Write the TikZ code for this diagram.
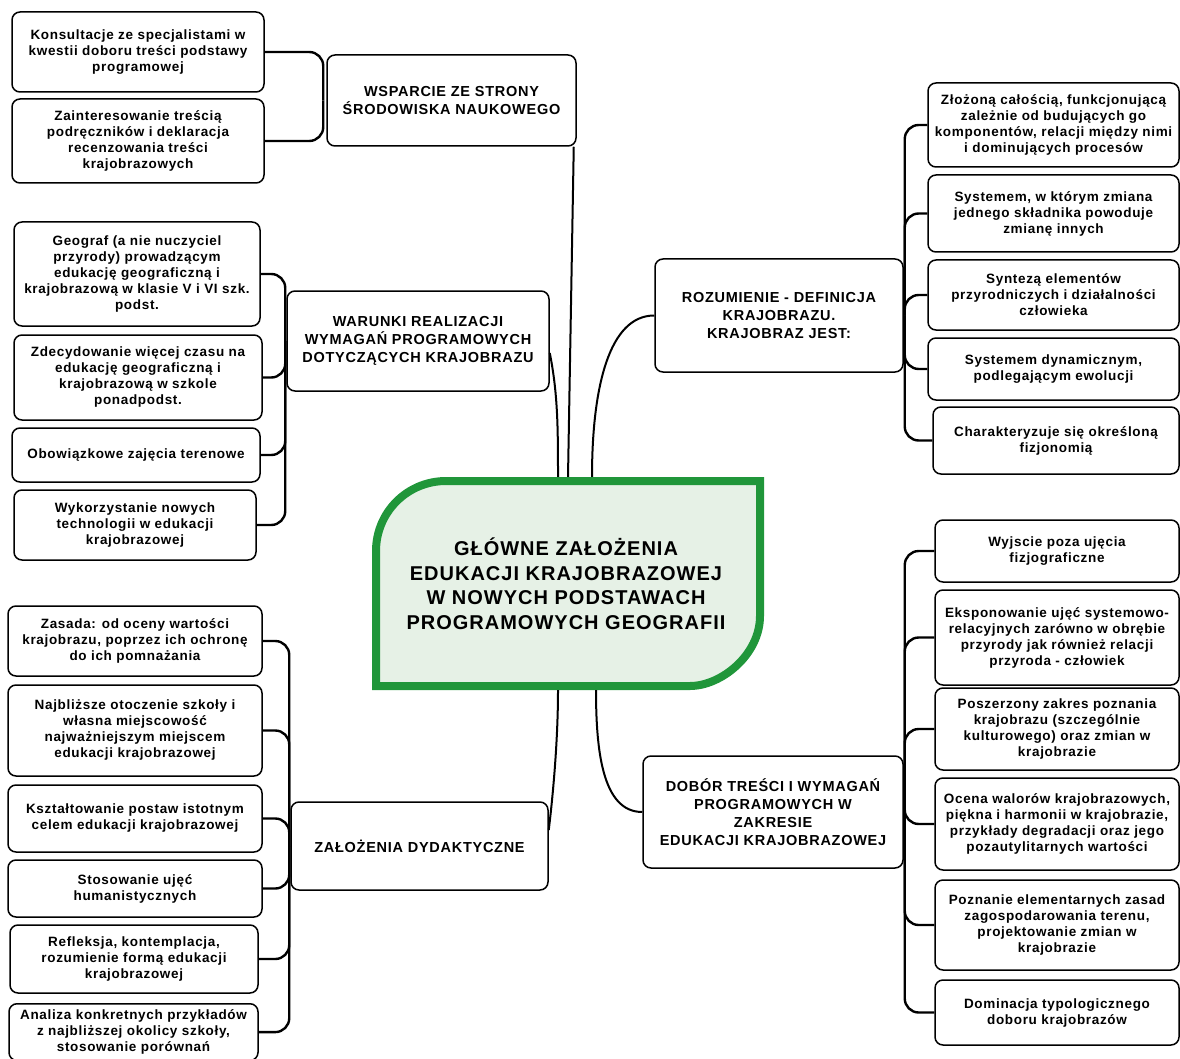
\documentclass[tikz,border=0pt]{standalone}
\usepackage{fontspec}
\setmainfont{Liberation Sans}
\newfontfamily\boxfont{Liberation Sans}[LetterSpace=5]
\usetikzlibrary{positioning}
\definecolor{hubgreen}{RGB}{32,150,58}
\definecolor{hubfill}{RGB}{230,241,230}

\begin{document}
\begin{tikzpicture}[x=1pt, y=-1pt,
    leaf/.style={draw, line width=1.5pt, rounded corners=8pt, fill=white, align=center, inner sep=2pt,
      font=\boxfont\bfseries\fontsize{13.5}{16}\selectfont},
    topic/.style={draw, line width=1.5pt, rounded corners=8pt, fill=white, align=center, inner sep=2pt,
      font=\boxfont\bfseries\fontsize{14.5}{18}\selectfont},
    hub/.style={align=center, font=\boxfont\bfseries\fontsize{20}{24.5}\selectfont},
    link/.style={line width=2.4pt, rounded corners=14pt},
    trunk/.style={line width=2pt}]
    \useasboundingbox (0,0) rectangle (1180,1059);

    % centre
    \draw[hubgreen, fill=hubfill, line width=8pt] (446,481) -- (760,481) -- (760,616)
      .. controls (760,654.7) and (721.3,686) .. (690,686) -- (376,686) -- (376,551)
      .. controls (376,512.3) and (407.3,481) .. cycle;
    \node[hub, minimum width=392, minimum height=213] (hub) at (566,583.5)
      {GŁÓWNE ZAŁOŻENIA\\EDUKACJI KRAJOBRAZOWEJ\\W NOWYCH PODSTAWACH\\PROGRAMOWYCH GEOGRAFII};

    % topics
    \node[topic, minimum width=249, minimum height=91] (wsparcie) at (451.5,100.5) {WSPARCIE ZE STRONY\\ŚRODOWISKA NAUKOWEGO};
    \node[topic, minimum width=262, minimum height=100] (warunki) at (418,341) {WARUNKI REALIZACJI\\WYMAGAŃ PROGRAMOWYCH\\DOTYCZĄCYCH KRAJOBRAZU};
    \node[topic, minimum width=257, minimum height=88] (zalozenia) at (419.5,846) {ZAŁOŻENIA DYDAKTYCZNE};
    \node[topic, minimum width=248, minimum height=113] (rozumienie) at (779,315.5) {ROZUMIENIE - DEFINICJA\\KRAJOBRAZU.\\KRAJOBRAZ JEST:};
    \node[topic, minimum width=260, minimum height=112] (dobor) at (773,812) {DOBÓR TREŚCI I WYMAGAŃ\\PROGRAMOWYCH W\\ZAKRESIE\\EDUKACJI KRAJOBRAZOWEJ};

    % wsparcie
    \node[leaf, minimum width=252, minimum height=80] (k1) at (138,52) {Konsultacje ze specjalistami w\\kwestii doboru treści podstawy\\programowej};
    \node[leaf, minimum width=252, minimum height=84] (k2) at (138,141) {Zainteresowanie treścią\\podręczników i deklaracja\\recenzowania treści\\krajobrazowych};

    % warunki
    \node[leaf, minimum width=246, minimum height=104] (g1) at (137,274) {Geograf (a nie nuczyciel\\przyrody) prowadzącym\\edukację geograficzną i\\krajobrazową w klasie V i VI szk.\\podst.};
    \node[leaf, minimum width=248, minimum height=85] (g2) at (138,377.5) {Zdecydowanie więcej czasu na\\edukację geograficzną i\\krajobrazową w szkole\\ponadpodst.};
    \node[leaf, minimum width=248, minimum height=54] (g3) at (136,455) {Obowiązkowe zajęcia terenowe};
    \node[leaf, minimum width=242, minimum height=70] (g4) at (135,525) {Wykorzystanie nowych\\technologii w edukacji\\krajobrazowej};

    % zalozenia
    \node[leaf, minimum width=254, minimum height=70] (z1) at (135,641) {Zasada: od oceny wartości\\krajobrazu, poprzez ich ochronę\\do ich pomnażania};
    \node[leaf, minimum width=254, minimum height=91] (z2) at (135,730.5) {Najbliższe otoczenie szkoły i\\własna miejscowość\\najważniejszym miejscem\\edukacji krajobrazowej};
    \node[leaf, minimum width=254, minimum height=67] (z3) at (135,818.5) {Kształtowanie postaw istotnym\\celem edukacji krajobrazowej};
    \node[leaf, minimum width=254, minimum height=57] (z4) at (135,888.5) {Stosowanie ujęć\\humanistycznych};
    \node[leaf, minimum width=248, minimum height=68] (z5) at (134,959) {Refleksja, kontemplacja,\\rozumienie formą edukacji\\krajobrazowej};
    \node[leaf, minimum width=249, anchor=north, inner ysep=6pt] (z6) at (133.5,1003) {Analiza konkretnych przykładów\\z najbliższej okolicy szkoły,\\stosowanie porównań};

    % rozumienie
    \node[leaf, minimum width=251, minimum height=84] (r1) at (1053.5,125) {Złożoną całością, funkcjonującą\\zależnie od budujących go\\komponentów, relacji między nimi\\i dominujących procesów};
    \node[leaf, minimum width=251, minimum height=77] (r2) at (1053.5,213.5) {Systemem, w którym zmiana\\jednego składnika powoduje\\zmianę innych};
    \node[leaf, minimum width=251, minimum height=70] (r3) at (1053.5,295) {Syntezą elementów\\przyrodniczych i działalności\\człowieka};
    \node[leaf, minimum width=251, minimum height=62] (r4) at (1053.5,369) {Systemem dynamicznym,\\podlegającym ewolucji};
    \node[leaf, minimum width=246, minimum height=67] (r5) at (1056,440.5) {Charakteryzuje się określoną\\fizjonomią};

    % dobor
    \node[leaf, minimum width=244, minimum height=62] (d1) at (1057,551) {Wyjscie poza ujęcia\\fizjograficzne};
    \node[leaf, minimum width=244, minimum height=95] (d2) at (1057,637.5) {Eksponowanie ujęć systemowo-\\relacyjnych zarówno w obrębie\\przyrody jak również relacji\\przyroda - człowiek};
    \node[leaf, minimum width=244, minimum height=82] (d3) at (1057,729) {Poszerzony zakres poznania\\krajobrazu (szczególnie\\kulturowego) oraz zmian w\\krajobrazie};
    \node[leaf, minimum width=244, minimum height=92] (d4) at (1057,824) {Ocena walorów krajobrazowych,\\piękna i harmonii w krajobrazie,\\przykłady degradacji oraz jego\\pozautylitarnych wartości};
    \node[leaf, minimum width=244, minimum height=90] (d5) at (1057,925) {Poznanie elementarnych zasad\\zagospodarowania terenu,\\projektowanie zmian w\\krajobrazie};
    \node[leaf, minimum width=244, minimum height=65] (d6) at (1057,1012.5) {Dominacja typologicznego\\doboru krajobrazów};

    % links
    \foreach \l in {k1,k2}
      \draw[link] (\l.east) -| ([xshift=-3pt]wsparcie.west);
    \foreach \l in {g1,g2,g3,g4}
      \draw[link] (\l.east) -| ([xshift=-1pt]warunki.west);
    \foreach \l in {z1,z2,z3,z4,z5,z6}
      \draw[link] (\l.east) -| ([xshift=-1pt]zalozenia.west);
    \foreach \l in {r1,r2,r3,r4,r5}
      \draw[link] ([xshift=1pt]rozumienie.east) |- (\l.west);
    \foreach \l in {d1,d2,d3,d4,d5,d6}
      \draw[link] ([xshift=1pt]dobor.east) |- (\l.west);

    % trunk
    \draw[trunk] ([xshift=-3pt]wsparcie.south east) -- ([xshift=2pt]hub.north);
    \draw[trunk] ([yshift=-12pt]warunki.east) .. controls +(8,40) and +(0,-50) .. ([xshift=-8pt]hub.north);
    \draw[trunk] (rozumienie.west) .. controls +(-45,0) and +(0,-90) .. ([xshift=26pt]hub.north);
    \draw[trunk] ([yshift=16pt]zalozenia.east) .. controls +(6,-50) and +(0,40) .. ([xshift=-8pt]hub.south);
    \draw[trunk] (dobor.west) .. controls +(-40,0) and +(0,60) .. ([xshift=30pt]hub.south);
\end{tikzpicture}
\end{document}
